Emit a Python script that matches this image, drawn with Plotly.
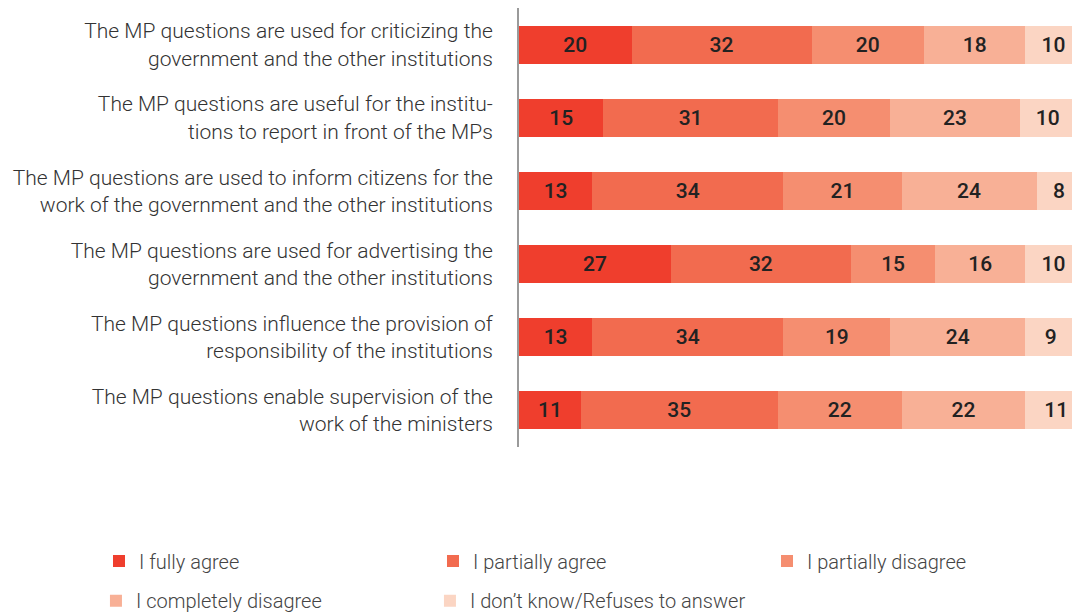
import plotly.graph_objects as go

categories = [
    "The MP questions are used for criticizing the<br>government and the other institutions",
    "The MP questions are useful for the institu-<br>tions to report in front of the MPs",
    "The MP questions are used to inform citizens for the<br>work of the government and the other institutions",
    "The MP questions are used for advertising the<br>government and the other institutions",
    "The MP questions influence the provision of<br>responsibility of the institutions",
    "The MP questions enable supervision of the<br>work of the ministers",
]
series_names = ["I fully agree", "I partially agree", "I partially disagree",
                "I completely disagree", "I don\u2019t know/Refuses to answer"]
fully_agree = [20, 15, 13, 27, 13, 11]
partially_agree = [32, 31, 34, 32, 34, 35]
partially_disagree = [20, 20, 21, 15, 19, 22]
completely_disagree = [18, 23, 24, 16, 24, 22]
dont_know = [10, 10, 8, 10, 9, 11]
colors = ["#EF3E2D", "#F26B4F", "#F58E70", "#F8B096", "#FBD5C3"]
legend_ids = ["legend", "legend", "legend", "legend2", "legend2"]

series = [fully_agree, partially_agree, partially_disagree, completely_disagree, dont_know]

fig = go.Figure()
for name, vals, col, lg in zip(series_names, series, colors, legend_ids):
    fig.add_trace(go.Bar(
        y=categories, x=vals, name=name, orientation="h", legend=lg,
        marker=dict(color=col, line=dict(width=0)),
        text=[str(v) for v in vals], textposition="inside",
        insidetextanchor="middle", constraintext="none",
        textfont=dict(family="Roboto", size=21, color="#222222", weight=500),
        hoverinfo="skip",
    ))

legend_common = dict(orientation="h", xanchor="left", yanchor="middle",
                     entrywidth=289, entrywidthmode="pixels", itemwidth=30,
                     traceorder="normal", bgcolor="rgba(0,0,0,0)",
                     font=dict(family="Roboto", size=20, color="#444444", weight=300))

fig.update_layout(
    width=1072, height=614,
    barmode="stack", bargap=0.48,
    margin=dict(l=519, r=0, t=8, b=167, autoexpand=False),
    paper_bgcolor="white", plot_bgcolor="white",
    font=dict(family="Roboto", size=21, color="#333333", weight=300),
    xaxis=dict(range=[0, 98.3], visible=False, showgrid=False, zeroline=False),
    yaxis=dict(autorange="reversed", showline=True, linecolor="#9a9a9a", linewidth=2,
               ticks="", showgrid=False, ticklabelstandoff=20,
               tickfont=dict(family="Roboto", size=21, color="#333333", weight=300)),
    legend=dict(x=-0.7595, y=-0.2597, **legend_common),
    legend2=dict(x=-0.765, y=-0.350, **legend_common),
    showlegend=True,
)

fig.write_html("out.html", config={"displayModeBar": False},
               post_script="document.body.style.margin='0';")
